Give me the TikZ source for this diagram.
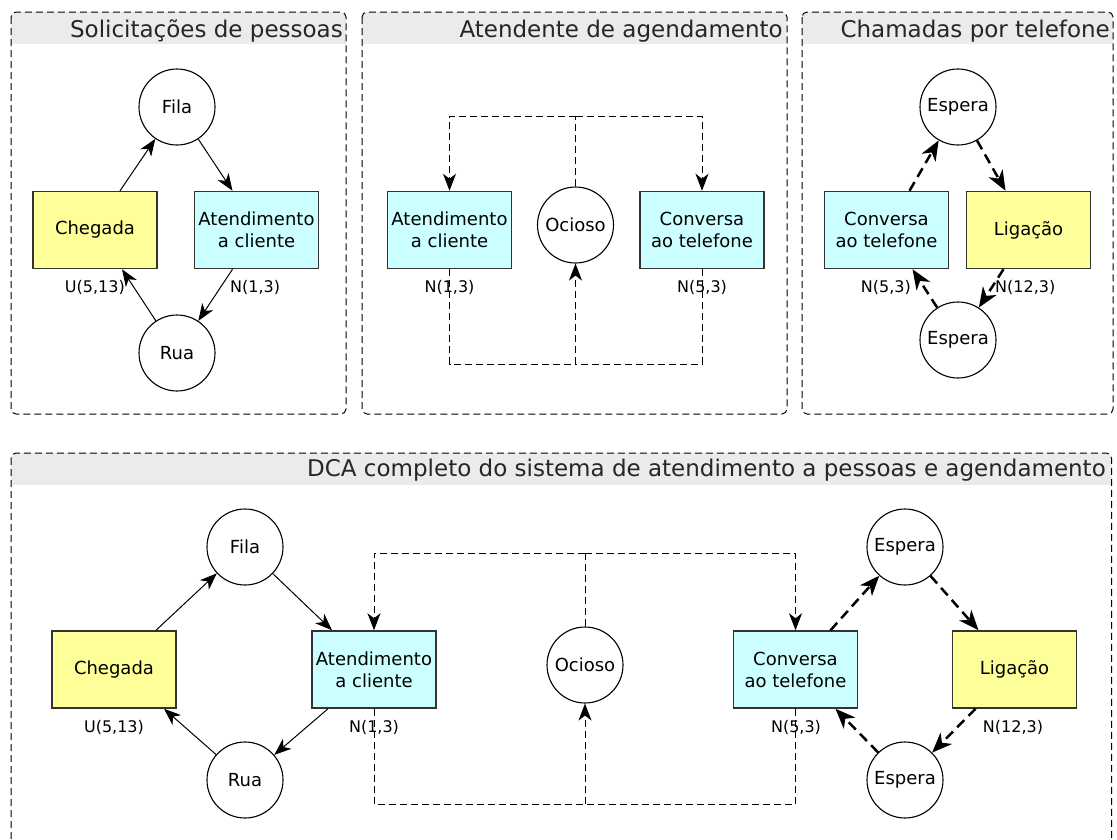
\documentclass[tikz,border=0pt]{standalone}
\usepackage{fontspec}
\setmainfont{DejaVu Sans}
\usetikzlibrary{arrows.meta,positioning}

\definecolor{headgray}{HTML}{EBEBEB}
\definecolor{eventyellow}{HTML}{FFFF99}
\definecolor{activecyan}{HTML}{CCFFFF}
\definecolor{boxline}{HTML}{333333}

\begin{document}
\begin{tikzpicture}[
    x=1pt, y=-1pt,
    panel/.style={draw, dash pattern=on 7pt off 4pt, line width=1pt, rounded corners=5pt},
    title/.style={anchor=base east, inner sep=0pt, text=black!85, font=\fontsize{23}{26}\selectfont},
    state/.style={draw, circle, line width=1.1pt, minimum size=76pt, inner sep=0pt, font=\fontsize{18}{22}\selectfont},
    event/.style={draw=boxline, fill=eventyellow, rectangle, line width=1.5pt, minimum width=124pt, minimum height=77pt, inner sep=0pt, align=center, font=\fontsize{18}{22}\selectfont},
    activity/.style={event, fill=activecyan},
    dist/.style={inner sep=0pt, font=\fontsize{16}{18}\selectfont},
    flow/.style={-{Stealth[length=17pt, width=13pt, inset=5pt]}, line width=1pt},
    idle/.style={dash pattern=on 7pt off 4pt, line width=1pt},
    idleflow/.style={idle, -{Stealth[length=17pt, width=13pt, inset=5pt]}},
    call/.style={-{Stealth[length=20pt, width=16pt, inset=6pt]}, line width=2.5pt, dash pattern=on 10pt off 6pt}
]
\path[use as bounding box] (0,0) rectangle (1117,839);
\clip (0,0) rectangle (1117,839);

% panels
\begin{scope}
  \clip[rounded corners=5pt] (11,12) rectangle (346,414);
  \fill[headgray] (11,12) rectangle (346,44);
\end{scope}
\draw[panel] (11,12) rectangle (346,414);
\node[title] (tit1) at (343,37) {Solicitações de pessoas};

\begin{scope}
  \clip[rounded corners=5pt] (362,12) rectangle (787,414);
  \fill[headgray] (362,12) rectangle (787,44);
\end{scope}
\draw[panel] (362,12) rectangle (787,414);
\node[title] (tit2) at (783,37) {Atendente de agendamento};

\begin{scope}
  \clip[rounded corners=5pt] (802,12) rectangle (1113,414);
  \fill[headgray] (802,12) rectangle (1113,44);
\end{scope}
\draw[panel] (802,12) rectangle (1113,414);
\node[title] (tit3) at (1110,37) {Chamadas por telefone};

\begin{scope}
  \clip[rounded corners=5pt] (11,453) rectangle (1111.5,870);
  \fill[headgray] (11,453) rectangle (1111.5,485);
\end{scope}
\draw[panel] (11,453) rectangle (1111.5,870);
\node[title] (tit4) at (1106,476) {DCA completo do sistema de atendimento a pessoas e agendamento};

% solicitacoes de pessoas
\node[state] (fila1) at (177,107) {Fila};
\node[event] (cheg1) at (95,230) {Chegada};
\node[activity] (aten1) at (256.5,230) {Atendimento\\a cliente};
\node[state] (rua1) at (177,353) {Rua};
\node[dist, anchor=east] (u1) at (125,287) {U(5,13)};
\node[dist, anchor=west] (n1) at (230,287) {N(1,3)};

\draw[flow] ([xshift=25pt]cheg1.north) -- (fila1);
\draw[flow] (fila1) -- ([xshift=-24pt]aten1.north);
\draw[flow] ([xshift=-24pt]aten1.south) -- (rua1);
\draw[flow] (rua1) -- ([xshift=27pt]cheg1.south);

% atendente de agendamento
\node[activity] (aten2) at (449.5,230) {Atendimento\\a cliente};
\node[state] (ocio2) at (575.5,225) {Ocioso};
\node[activity] (conv2) at (702,230) {Conversa\\ao telefone};
\node[dist] (n2a) at (449.5,287) {N(1,3)};
\node[dist] (n2b) at (702,287) {N(5,3)};
\coordinate (top2) at (575.5,116);
\coordinate (bot2) at (575.5,364);

\draw[idle] (ocio2.north) -- (top2);
\draw[idleflow] (top2) -| (aten2.north);
\draw[idleflow] (top2) -| (conv2.north);
\draw[idle] (aten2.south) |- (bot2);
\draw[idle] (conv2.south) |- (bot2);
\draw[idleflow] (bot2) -- (ocio2.south);

% chamadas por telefone
\node[state] (esp3a) at (958,107) {Espera};
\node[activity] (conv3) at (886.5,230) {Conversa\\ao telefone};
\node[event] (liga3) at (1028.5,230) {Ligação};
\node[state] (esp3b) at (958,340) {Espera};
\node[dist, anchor=east] (n3a) at (911,287) {N(5,3)};
\node[dist, anchor=west] (n3b) at (995,287) {N(12,3)};

\draw[call] ([xshift=23pt]conv3.north) -- (esp3a);
\draw[call] (esp3a) -- ([xshift=-23pt]liga3.north);
\draw[call] ([xshift=-25pt]liga3.south) -- (esp3b);
\draw[call] (esp3b) -- ([xshift=26pt]conv3.south);

% DCA completo
\node[state] (fila4) at (245,547) {Fila};
\node[event] (cheg4) at (114,669.5) {Chegada};
\node[activity] (aten4) at (374,669.5) {Atendimento\\a cliente};
\node[state] (rua4) at (245,780) {Rua};
\node[dist] (u4) at (114,727) {U(5,13)};
\node[dist] (n4a) at (374,727) {N(1,3)};
\node[state] (ocio4) at (585,665) {Ocioso};
\node[activity] (conv4) at (795.5,669.5) {Conversa\\ao telefone};
\node[event] (liga4) at (1014.5,669.5) {Ligação};
\node[state] (esp4a) at (905,547) {Espera};
\node[state] (esp4b) at (905,780) {Espera};
\node[dist] (n4b) at (796,727) {N(5,3)};
\node[dist] (n4c) at (1013,727) {N(12,3)};
\coordinate (top4) at (585,553);
\coordinate (bot4) at (585,804);

\draw[flow] ([xshift=42pt]cheg4.north) -- (fila4);
\draw[flow] (fila4) -- ([xshift=-42pt]aten4.north);
\draw[flow] ([xshift=-46pt]aten4.south) -- (rua4);
\draw[flow] (rua4) -- ([xshift=50pt]cheg4.south);

\draw[idle] (ocio4.north) -- (top4);
\draw[idleflow] (top4) -| (aten4.north);
\draw[idleflow] (top4) -| (conv4.north);
\draw[idle] (aten4.south) |- (bot4);
\draw[idle] (conv4.south) |- (bot4);
\draw[idleflow] (bot4) -- (ocio4.south);

\draw[call] ([xshift=35pt]conv4.north) -- (esp4a);
\draw[call] (esp4a) -- ([xshift=-36pt]liga4.north);
\draw[call] ([xshift=-39pt]liga4.south) -- (esp4b);
\draw[call] (esp4b) -- ([xshift=40pt]conv4.south);
\end{tikzpicture}
\end{document}
